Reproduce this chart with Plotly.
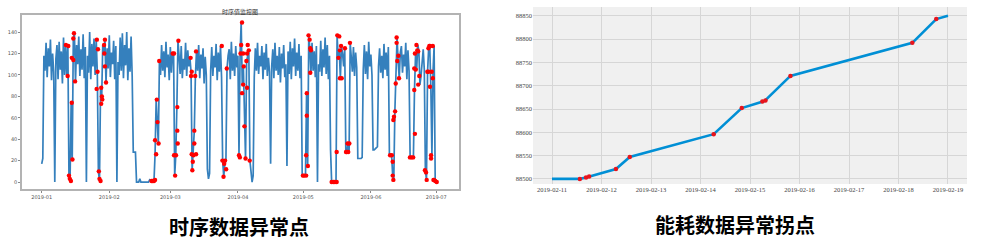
import pandas as pd
import plotly.graph_objects as go

# ---------------- Left chart: time series (2 samples per day from 2019-01-01) ----------------
ts_start = "2019-01-01"
ts_step_hours = 12
ts_values = [
    17, 22, 118, 104, 130, 98, 125, 108, 133, 95, 120, 103, 0, 115, 128, 96, 131, 105, 122, 92,
    135, 100, 128, 99, 127, 6, 1, 74, 21, 134, 139, 94, 128, 110, 136, 99, 124, 105, 138, 97,
    126, 0, 118, 102, 140, 96, 129, 108, 134, 100, 133, 103, 10, 1, 88, 77, 128, 120, 133, 93,
    125, 106, 137, 98, 121, 110, 132, 96, 127, 0, 112, 100, 135, 104, 139, 97, 128, 109, 140, 95,
    125, 103, 136, 99, 28, 28, 28, 0, 0, 0, 3, 0, 0, 0, 0, 0, 0, 0, 0, 2,
    1, 1, 1, 1, 26, 77, 56, 36, 113, 100, 128, 104, 122, 98, 131, 107, 119, 95, 126, 102,
    120, 120, 6, 25, 70, 132, 118, 101, 127, 97, 115, 105, 130, 99, 123, 108, 116, 103, 11, 25,
    48, 99, 122, 104, 128, 97, 119, 106, 125, 92, 117, 100, 12, 3, 8, 104, 126, 99, 118, 107,
    129, 95, 121, 103, 127, 98, 20, 5, 17, 20, 106, 118, 124, 96, 131, 104, 120, 99, 127, 107,
    118, 25, 120, 149, 91, 108, 52, 22, 113, 120, 123, 20, 5, 0, 6, 98, 125, 104, 130, 101,
    118, 108, 127, 96, 121, 105, 129, 99, 116, 103, 17, 108, 124, 97, 130, 104, 118, 100, 126, 93,
    120, 106, 128, 98, 110, 15, 122, 101, 131, 96, 125, 108, 134, 99, 121, 104, 129, 97, 118, 6,
    6, 6, 6, 83, 15, 137, 125, 102, 130, 104, 122, 98, 127, 0, 110, 103, 132, 99, 124, 107,
    135, 101, 128, 96, 118, 30, 0, 0, 0, 0, 0, 137, 116, 123, 97, 127, 120, 108, 125, 28,
    28, 36, 28, 130, 118, 103, 126, 99, 121, 107, 22, 22, 22, 22, 23, 105, 128, 101, 122, 96,
    131, 108, 119, 100, 30, 30, 31, 32, 33, 108, 125, 102, 118, 97, 129, 105, 121, 99, 126, 25,
    25, 25, 6, 2, 66, 92, 135, 113, 97, 121, 127, 102, 119, 108, 130, 96, 123, 104, 23, 23,
    23, 23, 86, 120, 105, 128, 123, 91, 99, 118, 124, 105, 11, 2, 103, 125, 127, 89, 25, 103,
    127, 2, 1, 0,
]

# anomaly points: day offset from 2019-01-01, value
anom_day = [
    11.1, 11.9, 12.2, 12.5, 12.9, 13.4, 13.8, 14.1, 13.8, 14.5, 14.8, 14.5, 15.3,
    25.3, 25.8, 25.6, 25.2, 26.2, 26.5, 27.0, 27.3, 27.6, 27.8, 27.3, 28.6, 29.0, 28.7, 29.0, 29.5,
    50.4, 50.9, 51.5, 52.0, 52.0, 52.5, 52.8, 53.1, 53.6, 53.9,
    60.1, 60.7, 60.7, 61.2, 61.6, 62.2, 62.2, 62.4, 62.7,
    68.3, 68.5, 68.8, 68.8, 69.1, 69.3, 69.6, 70.0, 70.0, 70.4, 70.8, 70.8,
    82.6, 82.9, 83.4, 83.7, 84.1, 84.6, 84.9,
    90.5, 90.9, 91.2, 91.5, 91.9, 91.9, 92.4, 92.4, 92.7, 93.0, 93.5, 93.9, 94.2, 94.2, 94.5, 95.0, 95.4,
    119.8, 120.4, 121.3, 121.3, 121.6, 121.6, 122.1, 122.4, 122.9, 123.2, 123.2, 123.5,
    133.0, 133.8, 134.5, 135.3, 135.3, 135.6, 136.1, 136.5, 136.8, 136.8, 137.6, 137.3,
    139.1, 139.6, 139.9, 140.3, 140.6, 141.1, 141.4,
    159.8, 160.6, 161.0, 161.3, 161.0, 161.3, 161.6, 162.1, 162.4, 162.8, 162.8, 163.1, 163.6, 163.9,
    168.9, 169.7, 170.4, 170.9, 170.9, 171.2, 171.2, 171.6, 171.9, 172.3, 172.7, 173.2, 172.7,
    175.8, 176.3, 176.6, 176.9, 177.4, 177.4, 177.8, 178.1, 178.1, 178.6, 178.6, 178.9, 179.4, 179.4,
    179.7, 180.0, 180.5, 181.2,
]
anom_val = [
    128, 99, 127, 6, 3, 1, 74, 21, 116, 114, 139, 134, 94,
    133, 124, 103, 87, 10, 3, 1, 88, 80, 77, 73, 128, 133, 120, 108, 93,
    1, 1, 1, 2, 39, 26, 77, 56, 36, 113,
    120, 120, 25, 6, 25, 70, 48, 36, 132,
    116, 99, 103, 26, 11, 19, 25, 48, 36, 99, 26, 122,
    127, 20, 5, 17, 20, 12, 106,
    25, 23, 120, 128, 149, 83, 120, 91, 108, 52, 22, 113, 120, 88, 128, 123, 20,
    6, 6, 6, 25, 83, 62, 15, 137, 133, 125, 102, 123,
    0, 0, 0, 0, 28, 137, 116, 136, 123, 97, 97, 127,
    125, 28, 28, 36, 28, 36, 130,
    25, 25, 6, 2, 19, 58, 61, 66, 92, 135, 130, 113, 118, 97,
    23, 23, 23, 86, 106, 120, 45, 105, 128, 123, 91, 99, 122,
    11, 9, 2, 103, 103, 125, 127, 127, 89, 25, 22, 103, 127, 97,
    2, 2, 1, 0,
]
left_yticks = [0, 20, 40, 60, 80, 100, 120, 140]

# ---------------- Right chart: cumulative energy meter ----------------
en_start = "2019-02-11"
en_hours = [0, 13.5, 16.5, 18, 31, 37.7, 78.4, 92, 103, 115.6, 174.7, 186.3, 192]
en_values = [88500, 88500, 88503, 88505, 88521, 88547, 88596, 88652, 88667, 88721, 88792, 88843, 88850]
en_anom_hours = [13.5, 16.5, 18, 31, 37.7, 78.4, 92, 102, 103.5, 115.6, 174.7, 186.3]
en_anom_values = [88500, 88503, 88505, 88521, 88547, 88596, 88652, 88666, 88668, 88721, 88792, 88843]
right_yticks = [88500, 88550, 88600, 88650, 88700, 88750, 88800, 88850]

titles = ["时序数据异常点", "能耗数据异常拐点"]
small_title = "时序值监控图"

# ---------------- build ----------------
t0 = pd.Timestamp(ts_start)
ts_x = [t0 + pd.Timedelta(hours=ts_step_hours * i) for i in range(len(ts_values))]
an_x = [t0 + pd.Timedelta(days=d) for d in anom_day]
e0 = pd.Timestamp(en_start)
en_x = [e0 + pd.Timedelta(hours=h) for h in en_hours]
en_ax = [e0 + pd.Timedelta(hours=h) for h in en_anom_hours]

fig = go.Figure()
fig.add_trace(go.Scatter(x=ts_x, y=ts_values, mode="lines",
                         line=dict(color="#3580bd", width=1.7), xaxis="x", yaxis="y",
                         showlegend=False, hoverinfo="skip"))
fig.add_trace(go.Scatter(x=an_x, y=anom_val, mode="markers",
                         marker=dict(color="#ff0000", size=4.4), xaxis="x", yaxis="y",
                         showlegend=False))
fig.add_trace(go.Scatter(x=en_x, y=en_values, mode="lines",
                         line=dict(color="#008fd5", width=2.6), xaxis="x2", yaxis="y2",
                         showlegend=False))
fig.add_trace(go.Scatter(x=en_ax, y=en_anom_values, mode="markers",
                         marker=dict(color="#e8141c", size=4.5), xaxis="x2", yaxis="y2",
                         showlegend=False))

tickfont_l = dict(family="DejaVu Sans", size=5, color="#555555")
tickfont_r = dict(family="Liberation Serif", size=6.5, color="#444444")

fig.update_layout(
    width=1000, height=250,
    margin=dict(l=0, r=0, t=0, b=0),
    paper_bgcolor="white", plot_bgcolor="white",
    xaxis=dict(domain=[0.022, 0.459], type="date",
               range=["2018-12-22 23:00", "2019-07-11 10:00"],
               dtick="M1", tick0="2019-01-01", tickformat="%Y-%m",
               showgrid=False, zeroline=False, showline=True, mirror=True,
               linecolor="#b3b3b3", linewidth=1.5, ticks="outside", ticklen=2,
               tickcolor="#888888", tickfont=tickfont_l, anchor="y"),
    yaxis=dict(domain=[0.244, 0.94], range=[-6.5, 156], tickvals=left_yticks,
               showgrid=False, zeroline=False, showline=True, mirror=True,
               linecolor="#b3b3b3", linewidth=1.5, ticks="outside", ticklen=2,
               tickcolor="#888888", tickfont=tickfont_l, anchor="x"),
    xaxis2=dict(domain=[0.533, 0.967], type="date",
                range=["2019-02-10 14:47", "2019-02-19 09:13"],
                dtick=86400000, tick0="2019-02-11", tickformat="%Y-%m-%d",
                showgrid=True, gridcolor="#d6d6d6", gridwidth=1, zeroline=False,
                showline=False, tickfont=tickfont_r, anchor="y2", ticks=""),
    yaxis2=dict(domain=[0.264, 0.972], range=[88489, 88869], tickvals=right_yticks,
                tickformat="d",
                showgrid=True, gridcolor="#d6d6d6", gridwidth=1, zeroline=False,
                showline=False, tickfont=tickfont_r, anchor="x2", ticks=""),
    shapes=[dict(type="rect", xref="x2 domain", yref="y2 domain", x0=0, x1=1, y0=0, y1=1,
                 fillcolor="#f0f0f0", line=dict(width=0), layer="below")],
    annotations=[
        dict(text="<b>" + titles[0] + "</b>", x=0.239, y=0.096, xref="paper", yref="paper",
             showarrow=False, xanchor="center", yanchor="middle",
             font=dict(family="Noto Sans CJK SC", size=20, color="black")),
        dict(text="<b>" + titles[1] + "</b>", x=0.735, y=0.104, xref="paper", yref="paper",
             showarrow=False, xanchor="center", yanchor="middle",
             font=dict(family="Noto Sans CJK SC", size=20, color="black")),
        dict(text=small_title, x=0.24, y=0.955, xref="paper", yref="paper",
             showarrow=False, xanchor="center", yanchor="middle",
             font=dict(family="Noto Sans CJK SC", size=6, color="#333333")),
    ],
)

fig.write_html("out.html")
